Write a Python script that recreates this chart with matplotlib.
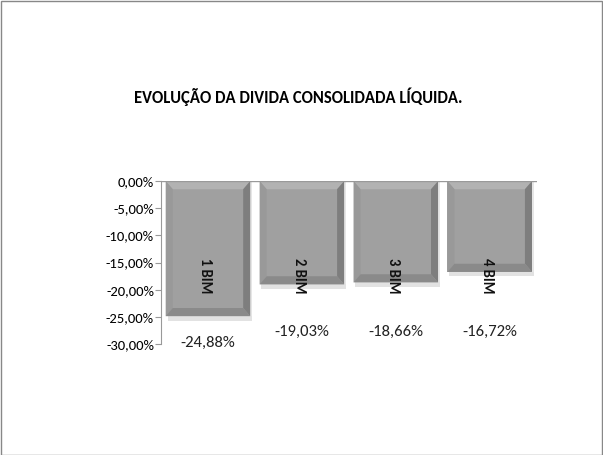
import matplotlib
matplotlib.use("Agg")
import matplotlib.pyplot as plt
from matplotlib.patches import Rectangle, Polygon

categories = ["1 BIM", "2 BIM", "3 BIM", "4 BIM"]
values = [-24.88, -19.03, -18.66, -16.72]
value_labels = ["-24,88%", "-19,03%", "-18,66%", "-16,72%"]
yticks = [0, -5, -10, -15, -20, -25, -30]
ytick_labels = ["0,00%", "-5,00%", "-10,00%", "-15,00%", "-20,00%", "-25,00%", "-30,00%"]
title = "EVOLUÇÃO DA DIVIDA CONSOLIDADA LÍQUIDA."

FONT = ["Carlito", "DejaVu Sans"]
plt.rcParams["font.family"] = FONT

fig = plt.figure(figsize=(6.03, 4.55), dpi=100)
fig.patches.append(Rectangle((0.001, 0.0), 0.997, 0.997, transform=fig.transFigure,
                             fill=False, edgecolor="#888888", linewidth=1.0))
ax = fig.add_axes([0.267, 0.244, 0.623, 0.358])

x = list(range(len(categories)))
w = 0.9
dx, dy = 0.075, 1.5
# soft shadow
for xi, v in zip(x, values):
    ax.add_patch(Rectangle((xi - w / 2 + 0.02, v - 0.8), w, 0.8, facecolor="#e2e2e2",
                           edgecolor="none", zorder=1))
    ax.add_patch(Rectangle((xi + w / 2, v), 0.02, -v, facecolor="#e6e6e6",
                           edgecolor="none", zorder=1))
bars = ax.bar(x, values, width=w, color="#a0a0a0", edgecolor="none", zorder=2)
for b in bars:
    x0 = b.get_x()
    x1 = x0 + b.get_width()
    y0 = 0
    y1 = b.get_height()
    ix0, ix1 = x0 + dx, x1 - dx
    iy0, iy1 = y0 - dy, y1 + dy
    ax.add_patch(Polygon([(x0, y0), (x1, y0), (ix1, iy0), (ix0, iy0)],
                         facecolor="#b2b2b2", edgecolor="none", zorder=3))
    ax.add_patch(Polygon([(x0, y0), (ix0, iy0), (ix0, iy1), (x0, y1)],
                         facecolor="#999999", edgecolor="none", zorder=3))
    ax.add_patch(Polygon([(x1, y0), (ix1, iy0), (ix1, iy1), (x1, y1)],
                         facecolor="#7e7e7e", edgecolor="none", zorder=3))
    ax.add_patch(Polygon([(x0, y1), (ix0, iy1), (ix1, iy1), (x1, y1)],
                         facecolor="#8a8a8a", edgecolor="none", zorder=3))

for xi, v, lab, cat in zip(x, values, value_labels, categories):
    ax.text(xi, min(v - 4.9, -27.8), lab, ha="center", va="center", fontsize=12,
            color="#222222", zorder=6)
    ax.text(xi - 0.03, -17.5, cat, rotation=270, ha="center", va="center", fontsize=10.5,
            fontweight="bold", color="#111111", zorder=6)

ax.set_xlim(-0.5, 3.5)
ax.set_ylim(-30, 0)
ax.set_yticks(yticks)
ax.set_yticklabels(ytick_labels, fontsize=10.5)
ax.set_xticks([])
for s in ["top", "right", "bottom"]:
    ax.spines[s].set_visible(False)
ax.spines["left"].set_color("#999999")
ax.axhline(0, color="#999999", linewidth=1.0, zorder=5)
ax.tick_params(axis="y", length=4, color="#999999", pad=1)

fig.text(0.495, 0.787, title, ha="center", va="center", fontsize=12, fontweight="bold")

fig.savefig("out.png", dpi=100)
